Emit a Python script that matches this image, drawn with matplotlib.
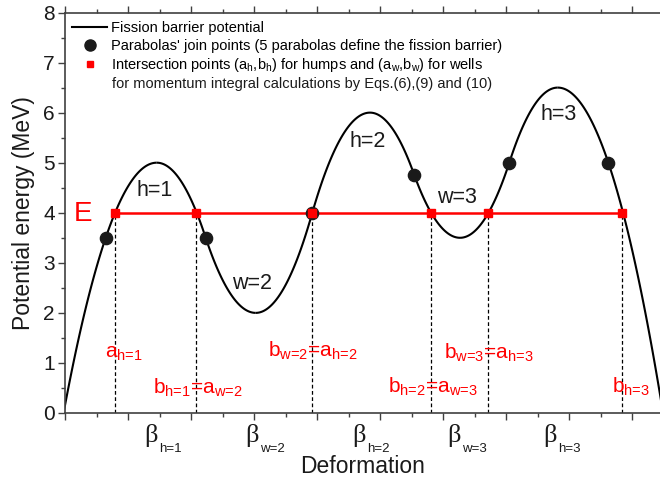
import matplotlib
matplotlib.use('Agg')
import matplotlib.pyplot as plt
import numpy as np
from matplotlib.ticker import MultipleLocator, NullFormatter
from matplotlib.lines import Line2D

plt.rcParams['font.family'] = ['Liberation Sans', 'DejaVu Sans']
plt.rcParams['mathtext.fontset'] = 'custom'
plt.rcParams['mathtext.rm'] = 'Liberation Sans'
plt.rcParams['mathtext.it'] = 'Liberation Sans:italic'

# vertices of the 5 parabolas (humps h and wells w)
vertex_x = [1.456, 3.027, 4.841, 6.270, 7.821]
vertex_y = [5.0, 2.0, 6.0, 3.5, 6.5]
vertex_name = ['h=1', 'w=2', 'h=2', 'w=3', 'h=3']

# join points of the parabolas
join_x = [0.646, 2.233, 3.925, 5.545, 7.052, 8.624]
join_y = [3.5, 3.5, 4.0, 4.75, 5.0, 5.0]

# energy E and the intersection points with the barrier
E = 4.0
cross_x = [0.794, 2.079, 3.925, 5.805, 6.719, 8.846]
cross_lbl = [r'a$_\text{h=1}$',
             r'b$_\text{h=1}$=a$_\text{w=2}$',
             r'b$_\text{w=2}$=a$_\text{h=2}$',
             r'b$_\text{h=2}$=a$_\text{w=3}$',
             r'b$_\text{w=3}$=a$_\text{h=3}$',
             r'b$_\text{h=3}$']
beta_sub = ['h=1', 'w=2', 'h=2', 'w=3', 'h=3']

# label positions (data coords)
name_pos = [(1.127, 4.33), (2.656, 2.48), (4.513, 5.31), (5.90, 4.19), (7.54, 5.85)]
cross_lbl_pos = [(0.635, 1.10), (1.39, 0.39), (3.227, 1.13), (5.13, 0.41), (6.02, 1.09), (8.68, 0.41)]
beta_pos_x = [1.254, 2.857, 4.556, 6.063, 7.587]

xmax = 9.444
AX_H = 400.5  # axes height in pixels

fig = plt.figure(figsize=(6.6, 4.8), dpi=100)
ax = fig.add_axes([65/660, 67/480, 595/660, AX_H/480])

# barrier: each parabola split in two halves, each half fixed by its vertex and join point
for i in range(len(vertex_x)):
    vx, vy = vertex_x[i], vertex_y[i]
    kl = (join_y[i] - vy) / (join_x[i] - vx) ** 2
    kr = (join_y[i + 1] - vy) / (join_x[i + 1] - vx) ** 2
    lo = join_x[i] if i > 0 else vx - np.sqrt(-vy / kl)
    hi = join_x[i + 1] if i < len(vertex_x) - 1 else vx + np.sqrt(-vy / kr)
    xl = np.linspace(lo, vx, 100)
    xr = np.linspace(vx, hi, 100)
    ax.plot(xl, vy + kl * (xl - vx) ** 2, color='black', lw=1.5, solid_capstyle='butt')
    ax.plot(xr, vy + kr * (xr - vx) ** 2, color='black', lw=1.5, solid_capstyle='butt')

ax.plot([cross_x[0], cross_x[-1]], [E, E], color='#ff0000', lw=1.8)
for cx in cross_x:
    ax.plot([cx, cx], [0, E], color='black', lw=0.9, ls=(0, (3, 2)))
ax.plot(join_x, join_y, 'o', color='#1a1a1a', ms=8.8, zorder=4)
ax.plot(cross_x, [E] * len(cross_x), 's', color='#ff0000', ms=6, zorder=5)

for name, (tx, ty) in zip(vertex_name, name_pos):
    ax.text(tx, ty, name, fontsize=15.5, color='#1a1a1a', ha='left', va='baseline')
for lbl, (tx, ty) in zip(cross_lbl, cross_lbl_pos):
    ax.text(tx, ty, lbl, fontsize=15, color='#ff0000', ha='left', va='baseline')
for sub, bx in zip(beta_sub, beta_pos_x):
    ax.text(bx, -0.57, 'β', fontsize=19, family='Liberation Serif', color='#1a1a1a',
            ha='left', va='baseline', clip_on=False)
    ax.text(bx + 0.24, -0.78, sub, fontsize=9.5, color='#1a1a1a',
            ha='left', va='baseline', clip_on=False)
ax.text(0.14, 3.83, 'E', fontsize=20, color='#ff0000', ha='left', va='baseline')

ax.set_xlim(0, xmax)
ax.set_ylim(0, 8)
ax.xaxis.set_major_locator(MultipleLocator(1))
ax.xaxis.set_minor_locator(MultipleLocator(0.5))
ax.xaxis.set_major_formatter(NullFormatter())
ax.yaxis.set_major_locator(MultipleLocator(1))
ax.yaxis.set_minor_locator(MultipleLocator(0.5))
ax.tick_params(axis='x', which='both', direction='out', top=True, bottom=True,
               labelbottom=False, color='#404040')
ax.tick_params(axis='y', which='both', direction='out', right=False, color='#404040')
ax.tick_params(which='major', length=5, width=1)
ax.tick_params(which='minor', length=3, width=1)
ax.tick_params(axis='y', labelsize=15, pad=2.2, labelcolor='#1a1a1a')
for s in ['left', 'bottom', 'top']:
    ax.spines[s].set_color('#404040')
    ax.spines[s].set_linewidth(1.2)
ax.spines['right'].set_visible(False)

ax.set_xlabel('Deformation', fontsize=16.5, color='#1a1a1a')
ax.xaxis.set_label_coords(0.5, -42 / AX_H)
ax.set_ylabel('Potential energy (MeV)', fontsize=16.5, color='#1a1a1a')
ax.yaxis.set_label_coords(-0.05, 0.5)

handles = [Line2D([], [], color='black', lw=1.5),
           Line2D([], [], marker='o', ls='none', color='#1a1a1a', ms=8),
           Line2D([], [], marker='s', ls='none', color='#ff0000', ms=4.8)]
labels = ['Fission barrier potential',
          "Parabolas' join points (5 parabolas define the fission barrier)",
          r'Intersection points (a$_\text{h}$,b$_\text{h}$) for humps and (a$_\text{w}$,b$_\text{w}$) for wells']
ax.legend(handles, labels, loc='upper left', bbox_to_anchor=(7.3/595, 1 - 8.5/AX_H),
          frameon=False, fontsize=10.5, handlelength=2.4, handletextpad=0.27,
          borderpad=0, borderaxespad=0, labelspacing=0.25)
# second line of the third legend entry
ax.text((111.7 - 65) / 595, 1 - (84 - 12.5) / AX_H,
        'for momentum integral calculations by Eqs.(6),(9) and (10)',
        transform=ax.transAxes, fontsize=10.5, color='#1a1a1a', ha='left', va='center')

fig.savefig('out.png', dpi=100)
